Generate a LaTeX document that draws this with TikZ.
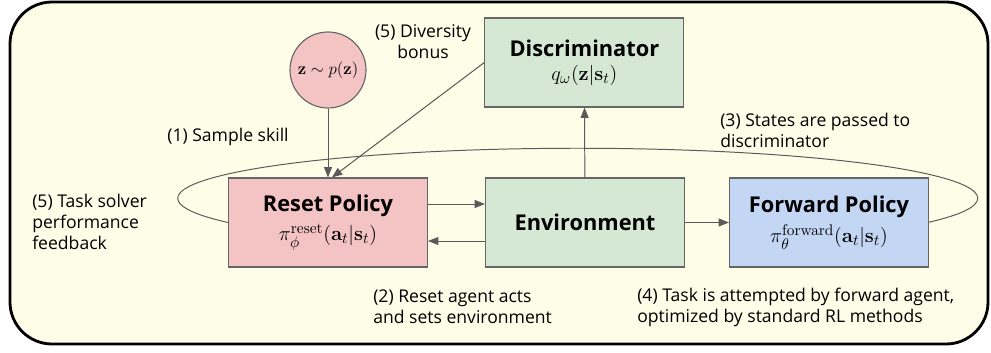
\documentclass[tikz,border=0pt]{standalone}
\usepackage[no-math]{fontspec}
\usepackage{amsmath}
\usepackage{amssymb}
\setmainfont{Open Sans}
\usetikzlibrary{arrows.meta, positioning, backgrounds}
\definecolor{rsframe}{HTML}{FDFDE8}
\definecolor{rspink}{HTML}{F4C3C3}
\definecolor{rsgreen}{HTML}{D5E8D4}
\definecolor{rsblue}{HTML}{C3D6F4}
\definecolor{rsgray}{HTML}{666666}
\definecolor{rsline}{HTML}{5A5A5A}
\pgfdeclarelayer{framelayer}
\pgfdeclarelayer{looplayer}
\pgfsetlayers{framelayer,looplayer,main}
\begin{document}
\begin{tikzpicture}[
  box/.style={draw=rsgray, line width=0.8pt, minimum width=4.975cm, minimum height=2.225cm, align=center, inner sep=2pt},
  title/.style={font=\fontsize{15.5}{20}\selectfont\bfseries},
  lbl/.style={font=\fontsize{12.5}{15}\selectfont, inner sep=0pt},
  arr/.style={-{Triangle[length=2.6mm, width=2mm]}, draw=rsline, fill=rsline, line width=0.7pt},
]
  \useasboundingbox (0,0) rectangle (24.775,8.8);
  \begin{pgfonlayer}{framelayer}
    \draw[line width=2pt, fill=rsframe, rounded corners=1.05cm] (0.25,0.2) rectangle (24.7,8.75);
  \end{pgfonlayer}

  \node[draw=rsgray, line width=0.8pt, circle, fill=rspink, minimum size=1.9cm, inner sep=0pt, font=\fontsize{13}{15}\selectfont] (zsample) at (8.2,7.05) {$\mathbf{z} \sim p(\mathbf{z})$};
  \node[box, fill=rsgreen] (disc) at (14.61,7.2375) {\textbf{\fontsize{15.5}{20}\selectfont Discriminator}\\[5pt]{\fontsize{15}{18}\selectfont$q_\omega(\mathbf{z}|\mathbf{s}_t)$}};
  \node[box, fill=rspink] (reset) at (8.2,3.2375) {\textbf{\fontsize{15.5}{20}\selectfont Reset Policy}\\[4pt]{\fontsize{15}{18}\selectfont$\pi_\phi^{\mathrm{reset}}(\mathbf{a}_t|\mathbf{s}_t)$}};
  \node[box, fill=rsgreen, title] (env) at (14.625,3.2375) {Environment};
  \node[box, fill=rsblue] (fwd) at (20.725,3.2375) {\textbf{\fontsize{15.5}{20}\selectfont Forward Policy}\\[4pt]{\fontsize{15}{18}\selectfont$\pi_\theta^{\mathrm{forward}}(\mathbf{a}_t|\mathbf{s}_t)$}};

  % labels
  \node[lbl, align=center] (bonus) at (10.575,7.75) {(5) Diversity\\bonus};
  \node[lbl] (skill) at (5.7,5.375) {(1) Sample skill};
  \node[lbl, anchor=west, align=left] (states) at (18.0,5.55) {(3) States are passed to\\discriminator};
  \node[lbl, anchor=west, align=left] (feedback) at (0.8,3.25) {(5) Task solver\\performance\\feedback};
  \node[lbl, anchor=west, align=left] (acts) at (9.325,1.125) {(2) Reset agent acts\\and sets environment};
  \node[lbl, anchor=west, align=left] (attempt) at (15.925,1.125) {(4) Task is attempted by forward agent,\\optimized by standard RL methods};

  % feedback loop behind the boxes
  \begin{pgfonlayer}{looplayer}
    \draw[rsline, line width=0.7pt] (reset.west) arc[start angle=209, end angle=-29, x radius=10cm, y radius=1.25cm];
  \end{pgfonlayer}

  \draw[arr] (zsample) -- (reset);
  \draw[arr] (disc.west) -- (reset.85);
  \draw[arr] (env) -- (disc);
  \draw[arr] ([yshift=0.4625cm]reset.east) -- ([yshift=0.4625cm]env.west);
  \draw[arr] ([yshift=-0.4625cm]env.west) -- ([yshift=-0.4625cm]reset.east);
  \draw[arr] (env) -- (fwd);
\end{tikzpicture}
\end{document}
